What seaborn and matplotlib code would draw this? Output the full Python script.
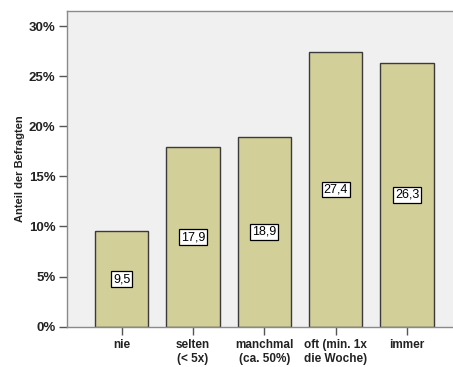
import matplotlib
matplotlib.use("Agg")
import matplotlib.pyplot as plt
import seaborn as sns
import pandas as pd

categories = ["nie", "selten\n(< 5x)", "manchmal\n(ca. 50%)", "oft (min. 1x\ndie Woche)", "immer"]
values = [9.5, 17.9, 18.9, 27.4, 26.3]
yticks = [0, 5, 10, 15, 20, 25, 30]
ytick_labels = ["0%", "5%", "10%", "15%", "20%", "25%", "30%"]

sns.set_theme(style="white")
plt.rcParams["font.family"] = ["Liberation Sans", "DejaVu Sans"]

df = pd.DataFrame({"Kategorie": categories, "Anteil": values})

W, H = 453, 367
fig = plt.figure(figsize=(W / 100, H / 100), dpi=100)
left, right, top, bottom = 66.7, 462.0, 11.0, 326.7
ax = fig.add_axes([left / W, 1 - bottom / H, (right - left) / W, (bottom - top) / H])
ax.set_facecolor("#f0f0f0")

sns.barplot(data=df, x="Kategorie", y="Anteil", color="#d3cf99", saturation=1,
            width=0.745, edgecolor="#3a3a3a", linewidth=1.0, ax=ax)

ax.set_xlim(-0.77, 4.77)
ax.set_ylim(0, 31.5)

for i, v in enumerate(values):
    ax.text(i, v / 2, f"{v:.1f}".replace(".", ","), ha="center", va="center",
            fontsize=9, color="black",
            bbox=dict(boxstyle="square,pad=0.15", fc="white", ec="black", lw=0.9))

ax.set_yticks(yticks)
ax.set_yticklabels(ytick_labels, fontsize=9.5, fontweight="bold", color="#222222")
ax.set_xticks(range(len(categories)))
ax.set_xticklabels(categories, fontsize=8.5, fontweight="bold", color="#222222", linespacing=1.15)
ax.tick_params(axis="y", direction="out", length=6, width=1, color="#555555", pad=2, left=True)
ax.tick_params(axis="x", direction="out", length=6, width=1, color="#555555", pad=3, bottom=True)

ax.set_xlabel("")
ax.set_ylabel("Anteil der Befragten", fontsize=8, fontweight="bold", color="#222222", labelpad=3)

for side in ["left", "bottom", "top"]:
    ax.spines[side].set_visible(True)
    ax.spines[side].set_color("#8a8a8a")
    ax.spines[side].set_linewidth(1.0)
ax.spines["right"].set_visible(False)

fig.savefig("out.png", dpi=100, facecolor="white")
